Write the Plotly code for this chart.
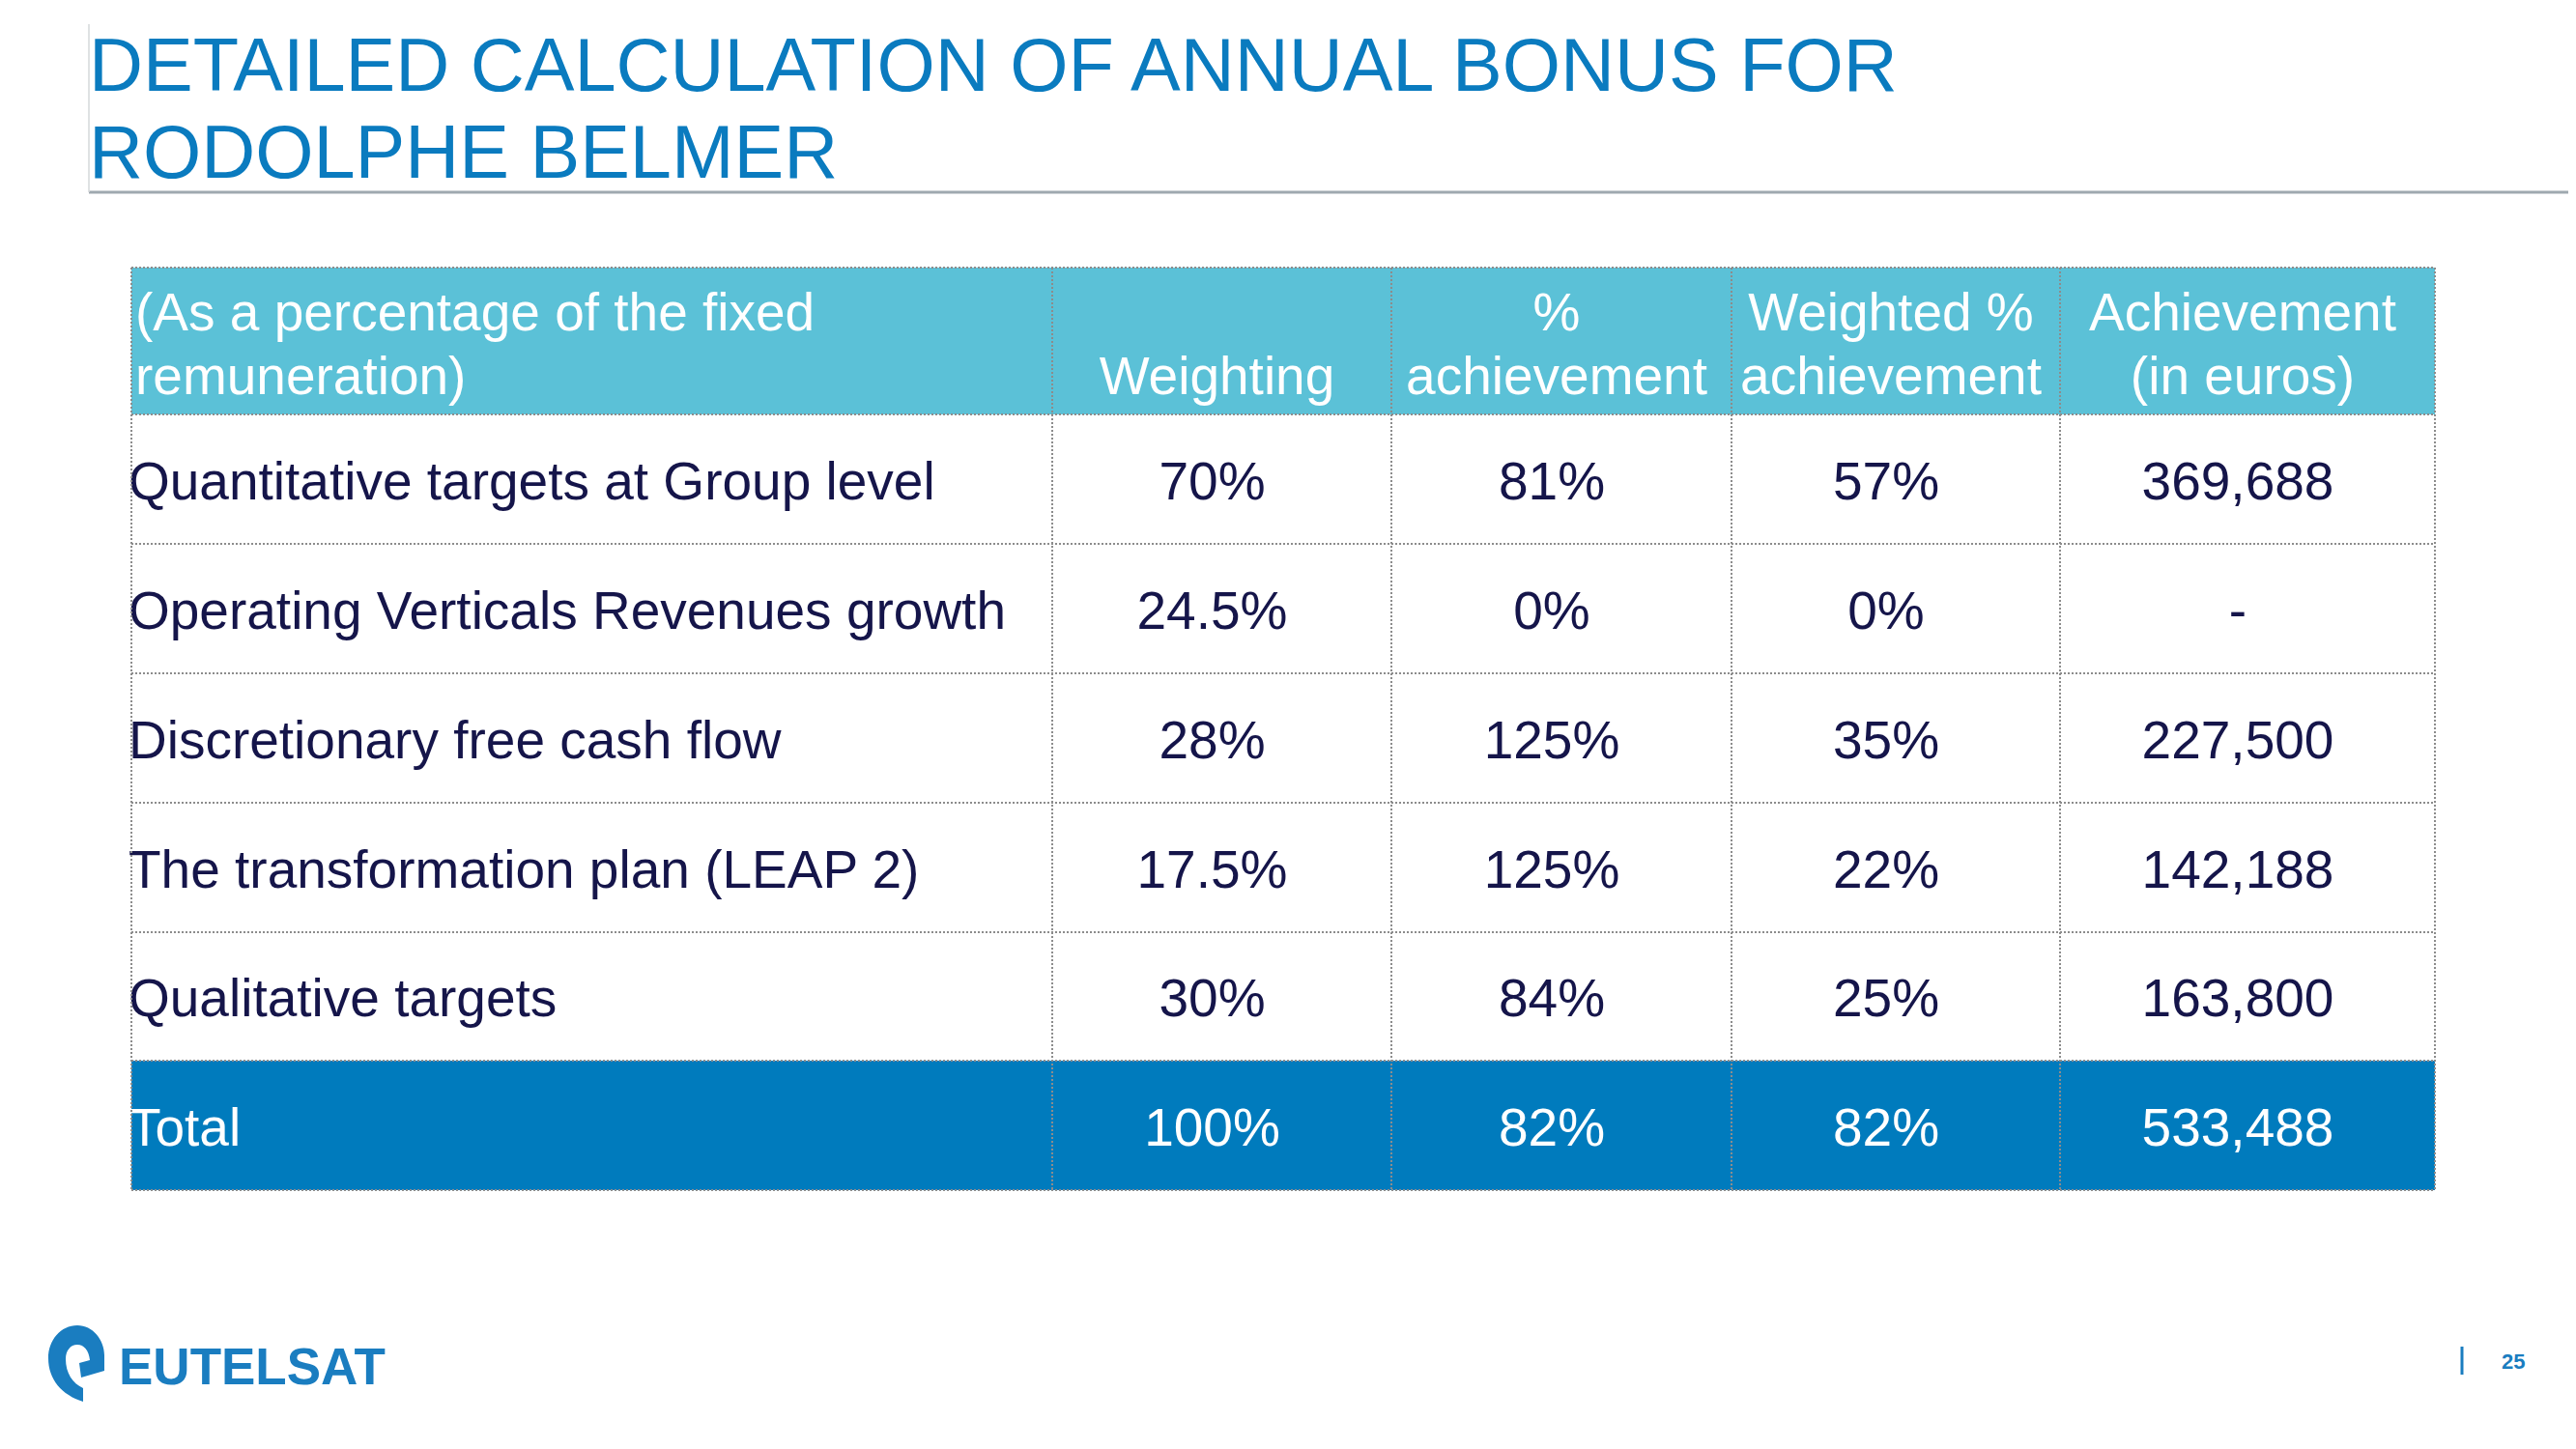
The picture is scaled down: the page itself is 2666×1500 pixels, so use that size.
import plotly.graph_objects as go

# ---------------- data ----------------
header_line1 = ["(As a percentage of the fixed", "", "%", "Weighted %", "Achievement"]
header_line2 = ["remuneration)", "Weighting", "achievement", "achievement", "(in euros)"]

criteria = [
    "Quantitative targets at Group level",
    "Operating Verticals Revenues growth",
    "Discretionary free cash flow",
    "The transformation plan (LEAP 2)",
    "Qualitative targets",
    "Total",
]
weighting = ["70%", "24.5%", "28%", "17.5%", "30%", "100%"]
achievement_pct = ["81%", "0%", "125%", "125%", "84%", "82%"]
weighted_achievement = ["57%", "0%", "35%", "22%", "25%", "82%"]
achievement_eur = ["369,688", "-", "227,500", "142,188", "163,800", "533,488"]

title_lines = ["DETAILED CALCULATION OF ANNUAL BONUS FOR", "RODOLPHE BELMER"]
page_number = "25"
brand = "eutelsat"

# ---------------- layout / style constants ----------------
W, H = 2666, 1500
PAGE_MARGIN = 8  # default body margin of the html page
COL_EDGES = [136, 1089, 1440, 1792, 2132, 2520]
ROW_EDGES = [277, 429, 563, 697, 831, 965, 1098, 1232]

FONT = "Liberation Sans, Arial, sans-serif"
TITLE_BLUE = "#0A7BBF"
LOGO_BLUE = "#1A7DC0"
HEADER_BG = "#5BC1D7"
BODY_BG = "#FFFFFF"
TOTAL_BG = "#007BBD"
BODY_TEXT = "#15154A"
BORDER = "#8C8C8C"
CELL_FONT = 55

fig = go.Figure()

# ---------------- table cells (heatmap with explicit edges) ----------------
ncols = len(header_line2)
row_types = [0] + [2 if c == "Total" else 1 for c in criteria]
z = [[t] * ncols for t in row_types]
fig.add_trace(go.Heatmap(
    x=COL_EDGES, y=ROW_EDGES, z=z,
    zmin=0, zmax=2,
    colorscale=[[0, HEADER_BG], [1/3, HEADER_BG], [1/3, BODY_BG], [2/3, BODY_BG],
                [2/3, TOTAL_BG], [1, TOTAL_BG]],
    showscale=False, hoverinfo="skip",
))

col_centers = [(COL_EDGES[i] + COL_EDGES[i + 1]) / 2 for i in range(ncols)]
row_centers = [(ROW_EDGES[i] + ROW_EDGES[i + 1]) / 2 for i in range(len(ROW_EDGES) - 1)]
body_y = [r + 7 for r in row_centers[1:]]
text_colors = ["#FFFFFF" if c == "Total" else BODY_TEXT for c in criteria]

# header text
hdr_mid = row_centers[0] + 8
for line_text, dy in ((header_line1, -33), (header_line2, 33)):
    fig.add_trace(go.Scatter(
        x=[COL_EDGES[0] + 4], y=[hdr_mid + dy], text=[line_text[0]],
        mode="text", textposition="middle right",
        textfont=dict(family=FONT, size=CELL_FONT, color="#FFFFFF"),
        hoverinfo="skip", showlegend=False,
    ))
    fig.add_trace(go.Scatter(
        x=[c - 5 for c in col_centers[1:]], y=[hdr_mid + dy] * (ncols - 1), text=line_text[1:],
        mode="text", textposition="middle center",
        textfont=dict(family=FONT, size=CELL_FONT, color="#FFFFFF"),
        hoverinfo="skip", showlegend=False,
    ))

# body text: first column left aligned
fig.add_trace(go.Scatter(
    x=[COL_EDGES[0] - 3] * len(criteria), y=body_y, text=criteria,
    mode="text", textposition="middle right",
    textfont=dict(family=FONT, size=CELL_FONT, color=text_colors),
    hoverinfo="skip", showlegend=False,
))
# numeric columns centred
for j, col in enumerate([weighting, achievement_pct, weighted_achievement, achievement_eur], start=1):
    fig.add_trace(go.Scatter(
        x=[col_centers[j] - 10] * len(col), y=body_y, text=col,
        mode="text", textposition="middle center",
        textfont=dict(family=FONT, size=CELL_FONT, color=text_colors),
        hoverinfo="skip", showlegend=False,
    ))

shapes = []
# dotted cell borders
for xe in COL_EDGES:
    shapes.append(dict(type="line", xref="x", yref="y", x0=xe, x1=xe,
                       y0=ROW_EDGES[0], y1=ROW_EDGES[-1],
                       line=dict(color=BORDER, width=2, dash="2px,2px")))
for ye in ROW_EDGES:
    shapes.append(dict(type="line", xref="x", yref="y", x0=COL_EDGES[0], x1=COL_EDGES[-1],
                       y0=ye, y1=ye,
                       line=dict(color=BORDER, width=2, dash="2px,2px")))

# title rule and side line
shapes.append(dict(type="line", xref="x", yref="y", x0=92, x1=W, y0=199, y1=199,
                   line=dict(color="#9FA9AF", width=3)))
shapes.append(dict(type="line", xref="x", yref="y", x0=92, x1=92, y0=25, y1=199,
                   line=dict(color="#D5D8DA", width=1.5)))

# page number separator
shapes.append(dict(type="line", xref="x", yref="y", x0=2548, x1=2548, y0=1394, y1=1423,
                   line=dict(color=LOGO_BLUE, width=3)))

# logo icon (stylised "e")
logo_path = ("M 86 1451 C 64 1444, 50 1428, 50 1406 C 50 1387, 63 1372, 80 1372 "
             "C 96 1372, 108 1387, 108 1403 L 108 1419 L 84 1426 L 82 1411 L 93 1408 "
             "C 92 1398, 87 1392, 80 1392 C 73 1392, 68 1398, 68 1407 "
             "C 68 1421, 75 1432, 86 1437 Z")
shapes.append(dict(type="path", xref="x", yref="y", path=logo_path,
                   fillcolor=LOGO_BLUE, line=dict(width=0)))

annotations = []
for txt, yc in zip(title_lines, (67, 157)):
    annotations.append(dict(x=90, y=yc, xref="x", yref="y", text=txt, showarrow=False,
                            xanchor="left", yanchor="middle",
                            font=dict(family=FONT, size=77.5, color=TITLE_BLUE)))
annotations.append(dict(x=2601, y=1409, xref="x", yref="y", text="<b>%s</b>" % page_number,
                        showarrow=False, xanchor="center", yanchor="middle",
                        font=dict(family=FONT, size=22, color=LOGO_BLUE)))
annotations.append(dict(x=121, y=1406, xref="x", yref="y", text="<b>%s</b>" % brand,
                        showarrow=False, xanchor="left", yanchor="middle",
                        font=dict(family=FONT, size=76, color=LOGO_BLUE,
                                  variant="all-small-caps")))

fig.update_layout(
    width=W - PAGE_MARGIN, height=H - PAGE_MARGIN,
    margin=dict(l=0, r=0, t=0, b=0),
    paper_bgcolor="#FFFFFF", plot_bgcolor="#FFFFFF",
    xaxis=dict(range=[PAGE_MARGIN, W], visible=False, fixedrange=True),
    yaxis=dict(range=[H, PAGE_MARGIN], visible=False, fixedrange=True),
    shapes=shapes, annotations=annotations,
    showlegend=False,
)

fig.write_html("out.html")
